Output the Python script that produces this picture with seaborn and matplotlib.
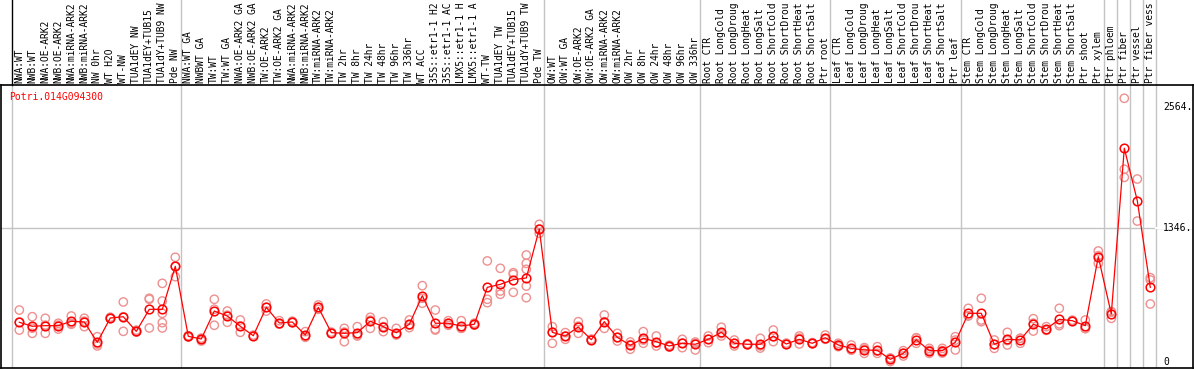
import matplotlib
matplotlib.use("Agg")
import matplotlib.pyplot as plt
import matplotlib.transforms as mtransforms
import seaborn as sns
import pandas as pd

categories = [
    "NWA:WT", "NWB:WT", "NWA:OE-ARK2", "NWB:OE-ARK2", "NWA:miRNA-ARK2", "NWB:miRNA-ARK2",
    "NW 0hr", "WT H2O", "WT-NW", "TUA1dEY NW", "TUA1dEY+TUB15 NW", "TUA1dY+TUB9 NW", "Pde NW",
    "NWA:WT GA", "NWBWT GA", "TW:WT", "TW:WT GA", "NWA:OE-ARK2 GA", "NWB:OE-ARK2 GA",
    "TW:OE-ARK2", "TW:OE-ARK2 GA", "NWA:miRNA-ARK2 GA", "NWB:miRNA-ARK2 GA", "TW:miRNA-ARK2",
    "TW:miRNA-ARK2 GA", "TW 2hr", "TW 8hr", "TW 24hr", "TW 48hr", "TW 96hr", "TW 336hr",
    "WT ACC", "35S::etr1-1 H2O", "35S::etr1-1 ACC", "LMX5::etr1-1 H2O", "LMX5::etr1-1 ACC",
    "WT-TW", "TUA1dEY TW", "TUA1dEY+TUB15 TW", "TUA1dY+TUB9 TW", "Pde TW",
    "OW:WT", "OW:WT GA", "OW:OE-ARK2", "OW:OE-ARK2 GA", "OW:miRNA-ARK2", "OW:miRNA-ARK2 GA",
    "OW 2hr", "OW 8hr", "OW 24hr", "OW 48hr", "OW 96hr", "OW 336hr",
    "Root CTR", "Root LongCold", "Root LongDrought", "Root LongHeat", "Root LongSalt",
    "Root ShortCold", "Root ShortDrought", "Root ShortHeat", "Root ShortSalt", "Ptr root",
    "Leaf CTR", "Leaf LongCold", "Leaf LongDrought", "Leaf LongHeat", "Leaf LongSalt",
    "Leaf ShortCold", "Leaf ShortDrought", "Leaf ShortHeat", "Leaf ShortSalt", "Ptr leaf",
    "Stem CTR", "Stem LongCold", "Stem LongDrought", "Stem LongHeat", "Stem LongSalt",
    "Stem ShortCold", "Stem ShortDrought", "Stem ShortHeat", "Stem ShortSalt", "Ptr shoot",
    "Ptr xylem", "Ptr phloem", "Ptr fiber", "Ptr vessel", "Ptr fiber vessel",
]

mean_values = [
    399, 359, 365, 365, 409, 402, 198, 442, 455, 308, 529, 529, 961,
    258, 231, 512, 462, 359, 264, 549, 392, 402, 271, 549, 295, 288, 295, 409,
    355, 295, 379, 666, 389, 389, 362, 379, 750, 780, 827, 844, 1336,
    298, 261, 352, 224, 405, 248, 168, 238, 204, 161, 188, 178,
    228, 298, 188, 178, 178, 261, 181, 228, 188, 244,
    171, 137, 121, 117, 27, 87, 224, 114, 114, 198,
    489, 489, 178, 228, 221, 379, 331, 429, 415, 365, 1058,
    482, 2147, 1620, 750,
]

replicates = [
    [522, 400, 321], [455, 340, 288], [439, 370, 288], [389, 370, 331], [462, 390, 379],
    [439, 410, 355], [254, 180, 161], [450, 440, 436], [603, 455, 308], [320, 300, 305],
    [640, 630, 342], [790, 613, 489, 395, 342], [1052, 961, 857],
    [265, 250, 258], [240, 211, 231], [630, 530, 369], [512, 470, 399], [422, 360, 298],
    [270, 260, 262], [583, 549, 512], [415, 380, 385], [410, 395, 400], [305, 260, 248],
    [573, 549, 529], [300, 290, 295], [338, 300, 204], [355, 270, 261], [449, 420, 338],
    [405, 355, 305], [338, 280, 271], [422, 370, 345], [767, 640, 590], [522, 330, 321],
    [415, 389, 369], [415, 338, 340], [390, 370, 379], [1015, 630, 596], [941, 713, 680],
    [897, 881, 700], [1075, 991, 931, 763, 646], [1383, 1336, 1293],
    [355, 300, 188], [295, 260, 228], [405, 360, 288], [230, 220, 224], [472, 405, 338],
    [288, 245, 211], [201, 175, 128], [305, 220, 188], [261, 190, 161], [165, 150, 168],
    [228, 190, 144], [200, 188, 121],
    [261, 228, 194], [349, 285, 261], [221, 185, 161], [185, 178, 172], [238, 140, 161],
    [321, 255, 204], [190, 175, 180], [261, 240, 181], [195, 185, 185], [271, 235, 228],
    [188, 170, 154], [171, 121, 120], [130, 145, 87], [154, 110, 87], [5, 40, 36],
    [114, 87, 60], [244, 240, 188], [137, 118, 87], [137, 115, 90], [254, 220, 121],
    [539, 465, 462], [640, 422, 405], [221, 175, 137], [298, 215, 171], [238, 238, 188],
    [435, 390, 311], [355, 321, 318], [539, 383, 365], [420, 410, 415], [422, 335, 338],
    [1115, 1068, 991], [439, 500, 507], [2649, 1936, 1855], [1838, 1416], [847, 824, 583],
]

group_ends = [12, 40, 52, 62, 72, 83, 84, 85, 86, 87]
ytick_values = [2564, 1346, 0]
ytick_labels = ["2564.", "1346.", "0"]
gene_id = "Potri.014G094300"
label_max_chars = 14  # header labels are shown cut to the header height, as in the reference

mean_df = pd.DataFrame({"pos": range(len(categories)), "value": mean_values})
rep_rows = [(i, v) for i, reps in enumerate(replicates) for v in reps]
rep_df = pd.DataFrame(rep_rows, columns=["pos", "value"])

W, H = 1194, 370
fig = plt.figure(figsize=(W / 100, H / 100), dpi=100, facecolor="white")
ax_left, ax_right, ax_top, ax_bot = 1, 1193, 85, 368
ax = fig.add_axes([ax_left / W, (H - ax_bot) / H, (ax_right - ax_left) / W, (ax_bot - ax_top) / H])
ax.set_facecolor("white")

step = 13.0
x0_px = 19.3
xmin = -(x0_px - ax_left) / step
xmax = xmin + (ax_right - ax_left) / step
ax.set_xlim(xmin, xmax)
px_per_val = 134 / 1346
ymin = -(ax_bot - 362) / px_per_val
ymax = (362 - ax_top) / px_per_val
ax.set_ylim(ymin, ymax)

mono = "DejaVu Sans Mono"
grey = "#C4C4C4"
trans = mtransforms.blended_transform_factory(ax.transData, ax.transAxes)
top_axes = (H - (H - ax_bot)) / (ax_bot - ax_top) + 0.01

# separators
sep_positions = [-0.6] + [g + 0.4 for g in group_ends]
for k, s in enumerate(sep_positions):
    ax.plot([s, s], [0, 1], transform=trans, color=grey, lw=1, zorder=1)
    ax.plot([s, s], [1, top_axes], transform=trans, color=("black" if k == 0 else grey),
            lw=1, clip_on=False, zorder=1)
ax.axhline(1346, xmin=0, xmax=1, color=grey, lw=1, zorder=1)
ax.plot([87.4, xmax], [1346, 1346], color="white", lw=1.5, zorder=1.5)

sns.scatterplot(data=rep_df, x="pos", y="value", ax=ax, marker="o", s=36,
                facecolor="none", edgecolor="#EE9090", linewidth=1.0, zorder=2, legend=False)
sns.lineplot(data=mean_df, x="pos", y="value", ax=ax, color="#FF0000", lw=0.9,
             marker="o", markersize=6.2, markerfacecolor="none", markeredgecolor="#FF0000",
             markeredgewidth=1.1, zorder=3, legend=False)

for i, lab in enumerate(categories):
    shown = lab[:label_max_chars].rstrip()
    ax.text(i, 1 + 2.5 / (ax_bot - ax_top), shown, transform=trans, rotation=90, ha="center",
            va="bottom", fontsize=6.9, family=mono, color="black", clip_on=False)

for v, lab in zip(ytick_values, ytick_labels):
    ax.text((1163 - ax_left) / (ax_right - ax_left), v, lab,
            transform=mtransforms.blended_transform_factory(ax.transAxes, ax.transData),
            ha="left", va="center", fontsize=7, family=mono, color="black")

ax.text((9 - ax_left) / (ax_right - ax_left), (ax_bot - 97) / (ax_bot - ax_top), gene_id,
        transform=ax.transAxes, ha="left", va="center", fontsize=7, family=mono, color="#FF0000")

ax.set_xticks([])
ax.set_yticks([])
ax.set_xlabel("")
ax.set_ylabel("")
for sp in ax.spines.values():
    sp.set_color("black")
    sp.set_linewidth(1.2)

fig.savefig("out.png", dpi=100, facecolor="white")
